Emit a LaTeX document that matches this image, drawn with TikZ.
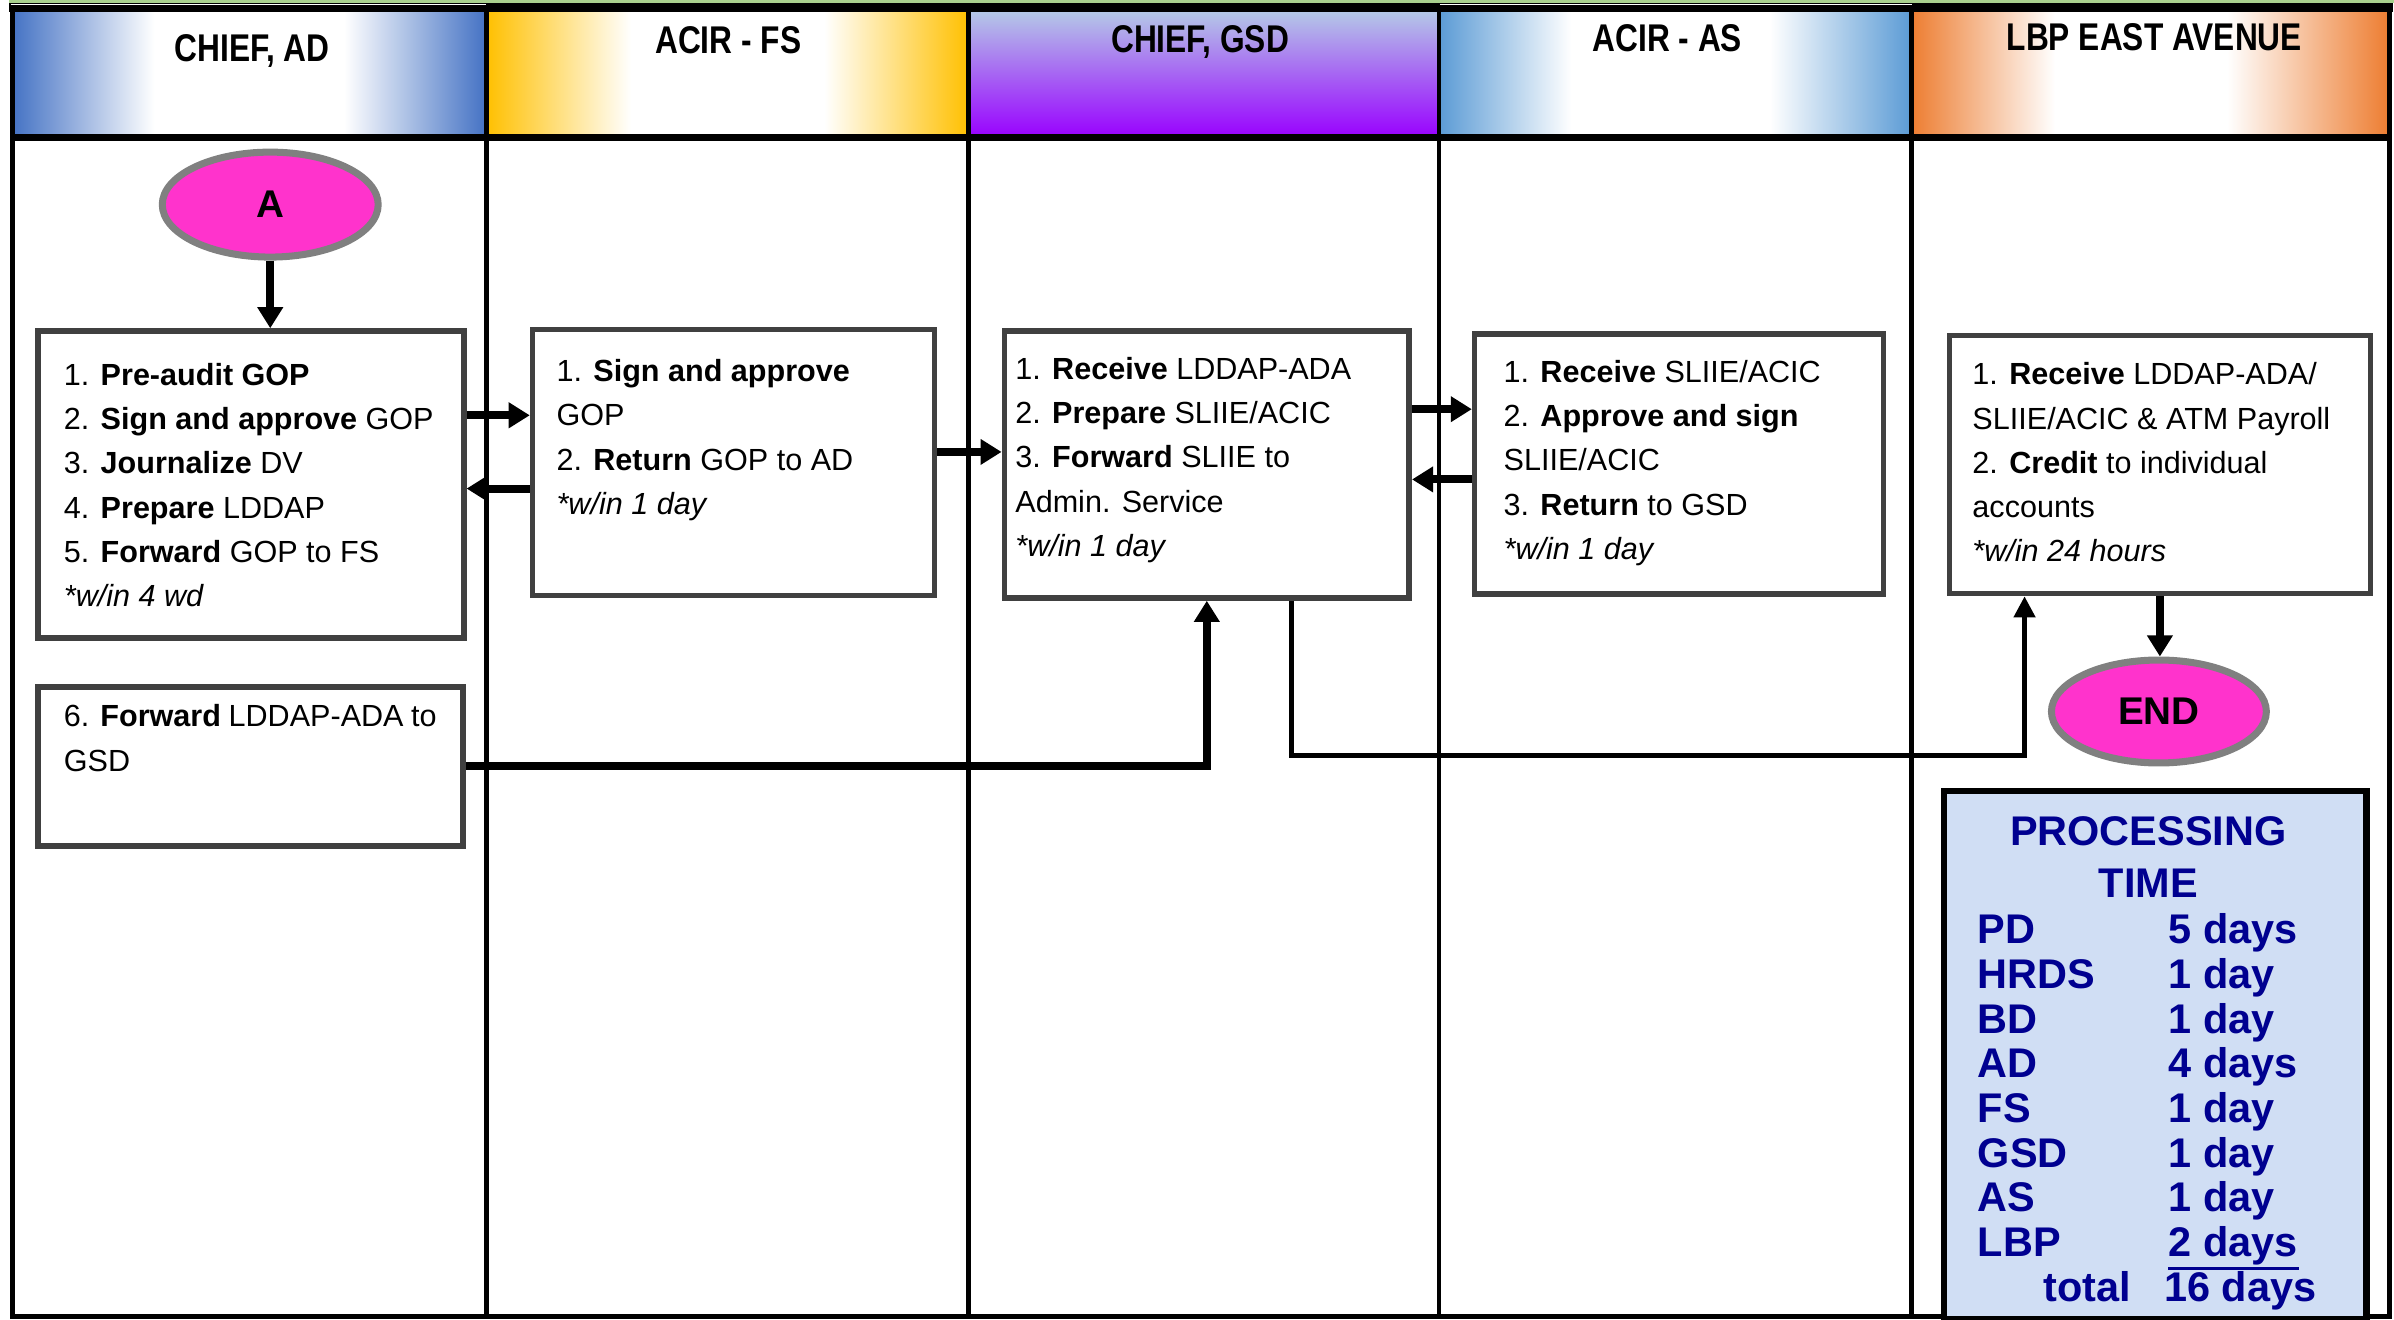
\documentclass[tikz,border=0pt]{standalone}
\usepackage{fontspec}
\setmainfont{Liberation Sans}
\newfontfamily\narrowsans[FakeStretch=0.82]{Liberation Sans}
\usetikzlibrary{arrows.meta,shapes.geometric}

% --- Colours ---
\definecolor{adblue}{HTML}{4472C4}
\definecolor{fsgold}{HTML}{FFC000}
\definecolor{gsdtop}{HTML}{B4C7E7}
\definecolor{gsdviolet}{HTML}{9900FF}
\definecolor{asblue}{HTML}{5B9BD5}
\definecolor{lbporange}{HTML}{ED7D31}
\definecolor{boxgray}{HTML}{404040}
\definecolor{ovalpink}{HTML}{FF33CC}
\definecolor{ovalgray}{HTML}{808080}
\definecolor{timenavy}{HTML}{000090}
\definecolor{timefill}{HTML}{D0DEF4}
\definecolor{topgreen}{HTML}{A9D18E}

% --- Header shadings (colour at the edges, white in the middle) ---
\pgfdeclarehorizontalshading{adshade}{100bp}{color(0bp)=(adblue); color(25bp)=(adblue);
  color(40bp)=(white); color(60bp)=(white); color(75bp)=(adblue); color(100bp)=(adblue)}
\pgfdeclarehorizontalshading{fsshade}{100bp}{color(0bp)=(fsgold); color(25bp)=(fsgold);
  color(40bp)=(white); color(60bp)=(white); color(75bp)=(fsgold); color(100bp)=(fsgold)}
\pgfdeclarehorizontalshading{asshade}{100bp}{color(0bp)=(asblue); color(25bp)=(asblue);
  color(39bp)=(white); color(60bp)=(white); color(75bp)=(asblue); color(100bp)=(asblue)}
\pgfdeclarehorizontalshading{lbpshade}{100bp}{color(0bp)=(lbporange); color(25bp)=(lbporange);
  color(40bp)=(white); color(58bp)=(white); color(75bp)=(lbporange); color(100bp)=(lbporange)}

% text block of a step box: width, height, text
\newcommand{\steptext}[3]{\parbox[c][#2][t]{#1}{\raggedright #3}}

\tikzset{
  lane/.style={line width=1.4pt, draw=black},
  lanehead/.style={font=\narrowsans\bfseries\fontsize{11pt}{13pt}\selectfont, anchor=base, inner sep=0pt},
  stepbox/.style={draw=boxgray, line width=1.6pt, fill=white, anchor=north west,
                  font=\fontsize{8.7pt}{12.6pt}\selectfont},
  terminal/.style={ellipse, draw=ovalgray, line width=2pt, fill=ovalpink, inner sep=0pt,
                   font=\bfseries\fontsize{11pt}{13pt}\selectfont},
  flow/.style={line width=2.3pt, -{Triangle[length=6pt,width=7pt]}},
  link/.style={line width=1.3pt, -{Triangle[length=6pt,width=6pt]}},
  timepanel/.style={draw=black, line width=1.8pt, fill=timefill, inner sep=0pt, anchor=north west},
  timetext/.style={font=\bfseries\fontsize{11.8pt}{14pt}\selectfont, text=timenavy,
                   inner sep=0pt, anchor=base west},
}

\begin{document}
\begin{tikzpicture}[x=0.01527cm, y=-0.01527cm]
% Coordinate system: pixels of the 1568 x 864 sketch, y downwards
\useasboundingbox (0,0) rectangle (1568,864);

% --- Top edge ---
\fill[topgreen] (6,0) rectangle (1568,2);
\fill[black] (6,2) rectangle (1567,8);
\draw[white, line width=0.4pt] (7,3.4) -- (318,3.4);
\draw[white, line width=0.4pt] (943,3.4) -- (1252,3.4);

% --- Lane headers ---
\shade[shading=adshade] (8,8) rectangle (318.5,90);
\shade[shading=fsshade] (318.5,8) rectangle (634.5,90);
\shade[top color=gsdtop, bottom color=gsdviolet] (634.5,8) rectangle (942.5,90);
\shade[shading=asshade] (942.5,8) rectangle (1252,90);
\shade[shading=lbpshade] (1252,8) rectangle (1565,90);

\node[lanehead] (hAD)  at (165,40)   {CHIEF, AD};
\node[lanehead] (hFS)  at (477,35)   {ACIR - FS};
\node[lanehead] (hGSD) at (786,34.5) {CHIEF, GSD};
\node[lanehead] (hAS)  at (1092,33.5) {ACIR - AS};
\node[lanehead] (hLBP) at (1411,33.3) {LBP EAST AVENUE};

% --- Lanes ---
\draw[lane] (8,5) rectangle (1565,862);
\draw[lane, line width=1.8pt] (8,90) -- (1565,90);
\foreach \x in {318.5,634.5,942.5,1252}
  \draw[lane] (\x,5) -- (\x,862);

% --- Terminals ---
\node[terminal, minimum width=2.16cm, minimum height=1.05cm] (start) at (177,134) {A};
\node[terminal, minimum width=2.15cm, minimum height=1.03cm] (finish) at (1414,466) {END};

% --- Steps ---
\node[stepbox, inner xsep=0.26cm, inner ysep=0.32cm] (ad) at (23,215)
  {\steptext{3.74cm}{2.43cm}{1. \textbf{Pre-audit GOP}\\
   2. \textbf{Sign and approve} GOP\\
   3. \textbf{Journalize} DV\\
   4. \textbf{Prepare} LDDAP\\
   5. \textbf{Forward} GOP to FS\\
   \textit{*w/in 4 wd}}};
\node[stepbox, inner xsep=0.24cm, inner ysep=0.30cm] (fs) at (347,214)
  {\steptext{3.54cm}{2.06cm}{1. \textbf{Sign and approve}\\
   GOP\\
   2. \textbf{Return} GOP to AD\\
   \textit{*w/in 1 day}}};
\node[stepbox, inner xsep=0.11cm, inner ysep=0.26cm] (gsd) at (656,215)
  {\steptext{3.83cm}{2.15cm}{1. \textbf{Receive} LDDAP-ADA\\
   2. \textbf{Prepare} SLIIE/ACIC\\
   3. \textbf{Forward} SLIIE to\\
   Admin. Service\\
   \textit{*w/in 1 day}}};
\node[stepbox, inner xsep=0.29cm, inner ysep=0.26cm] (as) at (964,217)
  {\steptext{3.51cm}{2.08cm}{1. \textbf{Receive} SLIIE/ACIC\\
   2. \textbf{Approve and sign}\\
   SLIIE/ACIC\\
   3. \textbf{Return} to GSD\\
   \textit{*w/in 1 day}}};
\node[stepbox, inner xsep=0.23cm, inner ysep=0.27cm] (lbp) at (1275,218)
  {\steptext{3.75cm}{2.04cm}{1. \textbf{Receive} LDDAP-ADA/\\
   SLIIE/ACIC \& ATM Payroll\\
   2. \textbf{Credit} to individual\\
   accounts\\
   \textit{*w/in 24 hours}}};
\node[stepbox, inner xsep=0.26cm, inner ysep=0.18cm] (fwd) at (23,448)
  {\steptext{3.73cm}{1.23cm}{6. \textbf{Forward} LDDAP-ADA to\\
   GSD}};

% --- Flows ---
\draw[flow] (start.south) -- (start.south |- ad.north);
\draw[flow] (ad.east |- 0,272) -- (fs.west |- 0,272);
\draw[flow] (fs.west |- 0,320) -- (ad.east |- 0,320);
\draw[flow] (fs.east |- 0,296) -- (gsd.west |- 0,296);
\draw[flow] (gsd.east |- 0,268) -- (as.west |- 0,268);
\draw[flow] (as.west |- 0,314) -- (gsd.east |- 0,314);
\draw[flow] (fwd.east) -| (gsd.south);
\draw[link] (gsd.south -| 846,0) |- (1326,495) -- (lbp.south -| 1326,0);
\draw[flow] (lbp.south) -- (lbp.south |- finish.north);

% --- Processing time ---
\node[timepanel, minimum width=4.23cm, minimum height=5.28cm] (timebox) at (1271,516) {};
\node[timetext, anchor=base] (ttop) at (1407,554) {PROCESSING};
\node[timetext, anchor=base] (tsub) at (1407,588) {TIME};
\foreach \unit/\dur [count=\k from 0] in {PD/5 days, HRDS/1 day, BD/1 day, AD/4 days,
    FS/1 day, GSD/1 day, AS/1 day, LBP/2 days} {
  \node[timetext] (unit\k) at (1295, 618+29.3*\k) {\unit};
  \node[timetext] (dur\k)  at (1420, 618+29.3*\k) {\dur};
}
\draw[timenavy, line width=0.8pt] ([yshift=-0.6pt]dur7.south west) -- ([yshift=-0.6pt]dur7.south east);
\node[timetext] (ttotal) at (1338,852.5) {total};
\node[timetext] (tdays)  at (1417,852.5) {16 days};

\end{tikzpicture}
\end{document}
